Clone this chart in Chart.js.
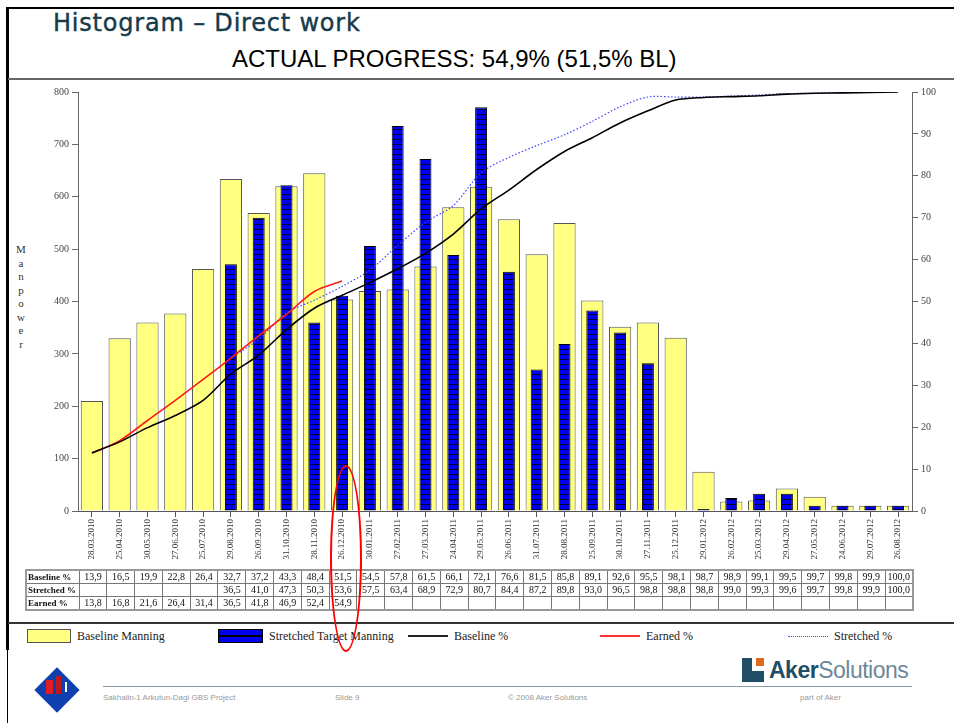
<!DOCTYPE html>
<html>
<head>
<meta charset="utf-8">
<script src="https://cdn.jsdelivr.net/npm/chart.js@4.4.0/dist/chart.umd.min.js"></script>
<style>
  body { margin: 0; background: #fff; }
  #page { position: relative; width: 954px; height: 723px; overflow: hidden; background: #fff; }
  .abs { position: absolute; }
  #title { left: 53px; top: 9px; font-family: "DejaVu Sans", sans-serif; font-size: 24px; line-height: 28px; color: #163b4b; letter-spacing: 0.8px; -webkit-text-stroke: 0.4px #163b4b; white-space: nowrap; }
  #subtitle { left: 232px; top: 45px; font-family: "Liberation Sans", Arial, sans-serif; font-size: 24px; color: #000; }
  #ylabel { left: 16px; top: 243px; width: 10px; font-family: "Liberation Serif", serif; font-size: 11px; line-height: 13.5px; color: #333; text-align: center; }
  #tbl { border-collapse: collapse; table-layout: fixed; font-family: "Liberation Serif", serif; font-size: 10px; color: #111; border: 2px solid #999; }
  #tbl td { border: 1px solid #777; height: 12px; padding: 0; text-align: center; line-height: 12px; white-space: nowrap; overflow: hidden; }
  #tbl td.lab { text-align: left; font-size: 9px; font-weight: bold; padding-left: 1px; }
  .leg { position: absolute; top: 629px; font-family: "Liberation Serif", serif; font-size: 12px; color: #222; }
  .foot { position: absolute; top: 693px; font-family: "Liberation Sans", Arial, sans-serif; font-size: 8px; color: #999; }
</style>
</head>
<body>
<div id="page">
  <div class="abs" style="left:6px;top:7px;width:948px;height:2px;background:#000"></div>
  <div class="abs" style="left:6px;top:7px;width:2.5px;height:643px;background:#000"></div>
  <div class="abs" style="left:7px;top:650px;width:1px;height:73px;background:#000"></div>
  <div class="abs" style="left:8px;top:78px;width:946px;height:2px;background:#666"></div>
  <div class="abs" style="left:8px;top:622px;width:946px;height:2px;background:#333"></div>

  <div id="title" class="abs">Histogram – Direct work</div>
  <div id="subtitle" class="abs">ACTUAL PROGRESS: 54,9% (51,5% BL)</div>
  <div id="ylabel" class="abs">M<br>a<br>n<br>p<br>o<br>w<br>e<br>r</div>

  <div class="abs" style="left:0;top:80px;width:954px;height:490px">
    <canvas id="chart" width="954" height="490"></canvas>
  </div>

  <table id="tbl" class="abs" style="left:25px;top:569px"></table>
  <div id="legend"></div>

  <div class="abs" style="left:330px;top:465px;width:28px;height:183px;border:2.5px solid #f00;border-radius:50%"></div>

  <!-- footer -->
  <div class="abs" style="left:41px;top:674px;width:32px;height:32px;background:#1040b0;transform:rotate(45deg)"></div>
  <div class="abs" style="left:46px;top:680px;width:7px;height:14px;background:#e02020"></div>
  <div class="abs" style="left:56px;top:676px;width:5px;height:18px;background:#c01818"></div>
  <div class="abs" style="left:65px;top:682px;width:1.5px;height:10px;background:#fff"></div>
  <div class="abs" style="left:742px;top:658px;width:22px;height:24px;background:#1f4e66"></div>
  <div class="abs" style="left:752px;top:658px;width:12px;height:13px;background:#fff"></div>
  <div class="abs" style="left:756px;top:658px;width:8px;height:8px;background:#e06a1e"></div>
  <div class="abs" style="left:769px;top:655px;font-family:'Liberation Sans',Arial,sans-serif;font-size:23px;letter-spacing:-0.5px;line-height:30px"><b style="color:#1f4e66">Aker</b><span style="color:#6d8797">Solutions</span></div>
  <div class="abs" style="left:103px;top:686px;width:809px;height:1px;background:#8c9aa6"></div>
  <div class="foot" style="left:103px">Sakhalin-1 Arkutun-Dagi GBS Project</div>
  <div class="foot" style="left:335px">Slide 9</div>
  <div class="foot" style="left:508px">© 2008 Aker Solutions</div>
  <div class="foot" style="left:800px">part of Aker</div>
</div>

<script>
// --- Data ---
const dates = ["28.03.2010","25.04.2010","30.05.2010","27.06.2010","25.07.2010","29.08.2010","26.09.2010","31.10.2010","28.11.2010","26.12.2010",
  "30.01.2011","27.02.2011","27.03.2011","24.04.2011","29.05.2011","26.06.2011","31.07.2011","28.08.2011","25.09.2011","30.10.2011",
  "27.11.2011","25.12.2011","29.01.2012","26.02.2012","25.03.2012","29.04.2012","27.05.2012","24.06.2012","29.07.2012","26.08.2012"];

const baselineManning = [210,330,360,377,462,634,569,620,645,404,420,423,467,580,619,557,490,550,402,352,360,331,75,18,20,43,27,10,10,10];
const stretchedManning = [null,null,null,null,null,471,560,622,360,411,506,735,672,489,771,457,270,319,383,341,282,null,4,25,33,33,10,10,10,10];

const baselinePct = [13.9,16.5,19.9,22.8,26.4,32.7,37.2,43.3,48.4,51.5,54.5,57.8,61.5,66.1,72.1,76.6,81.5,85.8,89.1,92.6,95.5,98.1,98.7,98.9,99.1,99.5,99.7,99.8,99.9,100.0];
const stretchedPct = [null,null,null,null,null,36.5,41.0,47.3,50.3,53.6,57.5,63.4,68.9,72.9,80.7,84.4,87.2,89.8,93.0,96.5,98.8,98.8,98.8,99.0,99.3,99.6,99.7,99.8,99.9,100.0];
const earnedPct = [13.8,16.8,21.6,26.4,31.4,36.5,41.8,46.9,52.4,54.9,null,null,null,null,null,null,null,null,null,null,null,null,null,null,null,null,null,null,null,null];

const tableRows = [["Baseline %", baselinePct], ["Stretched %", stretchedPct], ["Earned %", earnedPct]];

// --- striped blue fill for the stretched bars ---
function stripePattern() {
  const c = document.createElement("canvas");
  c.width = 6; c.height = 5;
  const g = c.getContext("2d");
  g.fillStyle = "#0000f0";
  g.fillRect(0, 0, 6, 5);
  g.fillStyle = "#000033";
  g.fillRect(0, 4, 6, 1);
  return g.createPattern(c, "repeat");
}

const tickFont = { family: "Liberation Serif", size: 10 };
const ctx = document.getElementById("chart").getContext("2d");

const chart = new Chart(ctx, {
  data: {
    labels: dates,
    datasets: [
      { type: "line", label: "Baseline %", data: baselinePct, yAxisID: "y1", borderColor: "#000", borderWidth: 1.6,
        pointRadius: 0, tension: 0.3, order: 1 },
      { type: "line", label: "Earned %", data: earnedPct, yAxisID: "y1", borderColor: "#ff1a1a", borderWidth: 1.6,
        pointRadius: 0, tension: 0.3, order: 1 },
      { type: "line", label: "Stretched %", data: stretchedPct, yAxisID: "y1", borderColor: "#4040ff", borderWidth: 1.2,
        borderDash: [1.5, 2], pointRadius: 0, tension: 0.3, order: 1 },
      { type: "bar", label: "Stretched Target Manning", data: stretchedManning, yAxisID: "y", backgroundColor: stripePattern(),
        borderColor: "#000", borderWidth: 1, barPercentage: 0.43, categoryPercentage: 1, grouped: false, order: 2 },
      { type: "bar", label: "Baseline Manning", data: baselineManning, yAxisID: "y", backgroundColor: "#ffff80",
        borderColor: "#555", borderWidth: 1, barPercentage: 0.8, categoryPercentage: 1, grouped: false, order: 3 }
    ]
  },
  options: {
    responsive: false,
    animation: false,
    layout: { padding: { top: 12 } },
    plugins: { legend: { display: false }, tooltip: { enabled: false } },
    scales: {
      x: {
        offset: true,
        grid: { drawOnChartArea: false, offset: false, tickLength: 6, color: "#555" },
        border: { color: "#555" },
        ticks: { font: { family: "Liberation Serif", size: 9 }, color: "#333", minRotation: 90, maxRotation: 90, autoSkip: false, padding: 2 },
        afterFit: s => { s.height = 59; }
      },
      y: {
        position: "left", min: 0, max: 800,
        grid: { drawOnChartArea: false, tickLength: 6, color: "#666" },
        border: { color: "#666" },
        ticks: { stepSize: 100, font: tickFont, color: "#444", padding: 3 },
        afterFit: s => { s.width = 78; }
      },
      y1: {
        position: "right", min: 0, max: 100,
        grid: { drawOnChartArea: false, tickLength: 6, color: "#666" },
        border: { color: "#666" },
        ticks: { stepSize: 10, font: tickFont, color: "#444", padding: 3 },
        afterFit: s => { s.width = 42; }
      }
    }
  }
});

// --- data table under the axis, columns lined up with the categories ---
const fmt = v => (v == null ? "" : v.toFixed(1).replace(".", ","));
const xs = chart.scales.x;
const step = xs.getPixelForValue(1) - xs.getPixelForValue(0);
const firstEdge = xs.getPixelForValue(0) - step / 2;
const tbl = document.getElementById("tbl");
let html = "<colgroup><col style='width:" + (firstEdge - 25) + "px'>";
dates.forEach(() => { html += "<col style='width:" + step + "px'>"; });
html += "</colgroup>";
tableRows.forEach(([name, vals]) => {
  html += "<tr><td class='lab'>" + name + "</td>" + vals.map(v => "<td>" + fmt(v) + "</td>").join("") + "</tr>";
});
tbl.innerHTML = html;

// --- legend ---
const legendItems = [
  { label: "Baseline Manning", x: 27, box: "width:42px;height:12px;background:#ffff80;border:1px solid #555" },
  { label: "Stretched Target Manning", x: 218, box: "width:43px;height:12px;background:linear-gradient(#0000f0 45%,#000 45%,#000 60%,#0000f0 60%);border:1px solid #000" },
  { label: "Baseline %", x: 408, box: "width:40px;height:0;border-top:2px solid #222;margin-top:6px" },
  { label: "Earned %", x: 600, box: "width:40px;height:0;border-top:2px solid #ff3030;margin-top:6px" },
  { label: "Stretched %", x: 788, box: "width:40px;height:0;border-top:1px dotted #4040ff;margin-top:7px" }
];
const legend = document.getElementById("legend");
legendItems.forEach(it => {
  const d = document.createElement("div");
  d.className = "leg";
  d.style.left = it.x + "px";
  d.style.display = "flex";
  d.innerHTML = "<div style='" + it.box + ";margin-right:6px'></div><span>" + it.label + "</span>";
  legend.appendChild(d);
});
</script>
</body>
</html>
